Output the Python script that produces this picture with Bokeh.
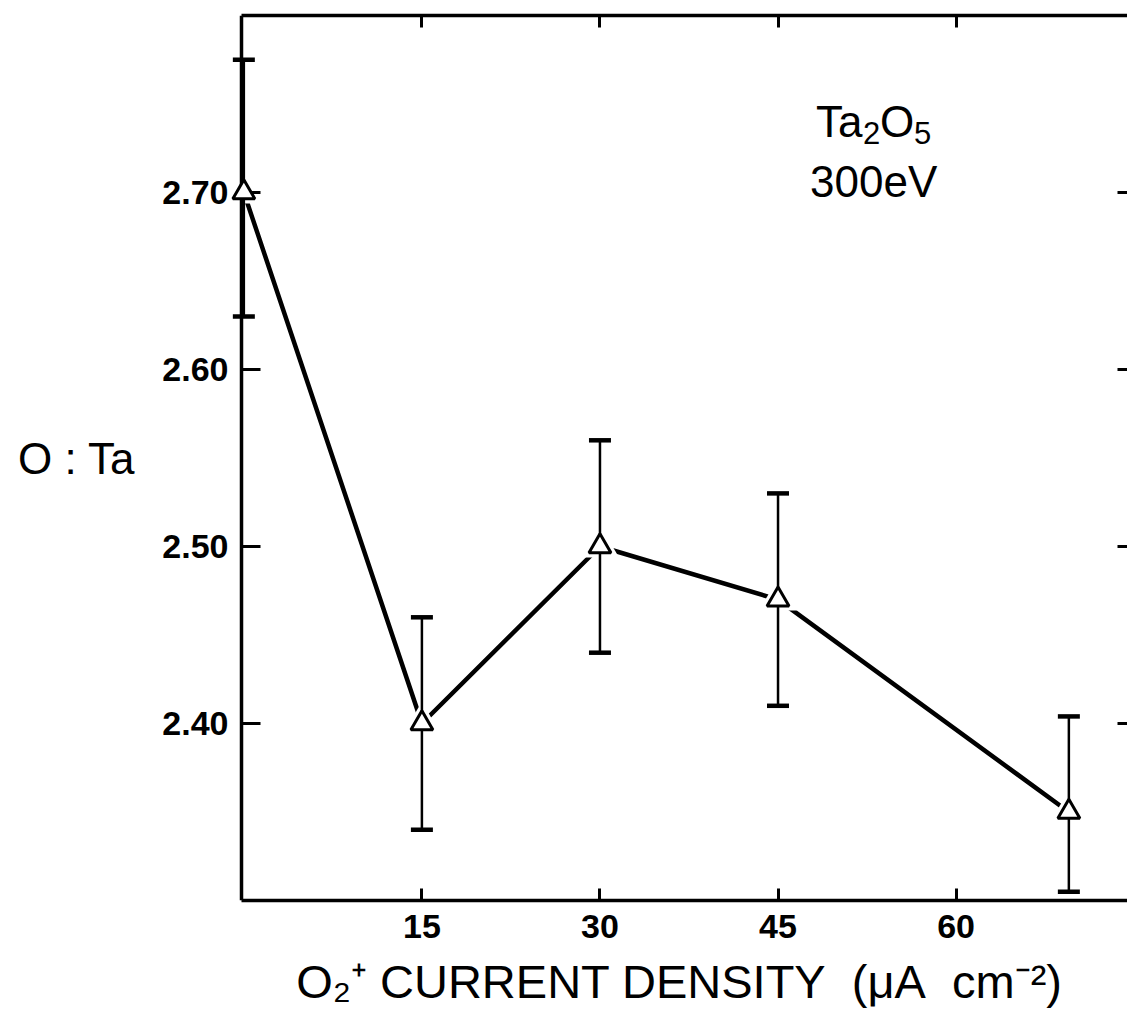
from bokeh.plotting import figure
from bokeh.models import Range1d, FixedTicker, PrintfTickFormatter, LinearAxis, Label
from bokeh.embed import file_html
from bokeh.resources import INLINE

# O:Ta ratio of Ta2O5 after 300 eV O2+ bombardment vs. ion current density
current_density = [0, 15, 30, 45, 69.5]
o_ta_ratio = [2.70, 2.40, 2.50, 2.47, 2.35]
ratio_low = [2.63, 2.34, 2.44, 2.41, 2.305]
ratio_high = [2.775, 2.46, 2.56, 2.53, 2.404]
x_ticks = [15, 30, 45, 60]
y_ticks = [2.40, 2.50, 2.60, 2.70]

FONT = "Liberation Sans"
X_AXIS_AT = -0.2          # where the left axis line sits
X_START, X_END = -1.04, 74.44
NB = "\u00A0"

p = figure(width=1127, height=1021, output_backend="svg", toolbar_location=None,
           x_range=Range1d(X_START, X_END), y_range=Range1d(2.30, 2.80),
           min_border_left=231, min_border_right=0, min_border_top=15,
           min_border_bottom=121, x_axis_location=None, y_axis_location=None,
           background_fill_color="white", border_fill_color="white")
p.outline_line_color = None
p.grid.visible = False


def style_axis(ax, tick_in, show_labels, line=True, tick_out=0):
    ax.major_tick_in = tick_in
    ax.major_tick_out = tick_out
    ax.minor_tick_line_color = None
    ax.major_tick_line_width = 3
    ax.major_tick_line_color = "black" if (tick_in or tick_out) else None
    ax.axis_line_width = 3.5
    ax.axis_line_color = "black" if line else None
    if show_labels:
        ax.major_label_text_font = FONT
        ax.major_label_text_font_style = "bold"
        ax.major_label_text_font_size = "34px"
        ax.major_label_text_color = "black"
    else:
        ax.major_label_text_font_size = "1px"
        ax.major_label_text_color = None
        ax.major_label_standoff = 0


# left axis line and its ticks, pinned at x = X_AXIS_AT; the pinned rule
# draws its ticks on the outer side, so a negative length turns them inward
left_rule = LinearAxis(ticker=FixedTicker(ticks=y_ticks), fixed_location=X_AXIS_AT)
style_axis(left_rule, 0, False, tick_out=-19)
p.add_layout(left_rule, "left")

# tick values and the quantity name, set just outside the rule
left = LinearAxis(ticker=FixedTicker(ticks=y_ticks),
                  formatter=PrintfTickFormatter(format="%.2f"),
                  axis_label="O : Ta")
style_axis(left, 0, True, line=False)
left.major_label_standoff = 3
left.axis_label_orientation = "horizontal"
left.axis_label_standoff = 24
left.axis_label_text_font = FONT
left.axis_label_text_font_style = "normal"
left.axis_label_text_font_size = "44px"
left.axis_label_text_color = "black"
p.add_layout(left, "left")

bottom = LinearAxis(ticker=FixedTicker(ticks=x_ticks), bounds=(X_AXIS_AT, X_END),
                    axis_label="O\u2082\u207A CURRENT DENSITY" + NB * 2 + "(\u03BCA"
                               + NB * 2 + "cm\u207B\u00B2)")
style_axis(bottom, 12, True)
bottom.major_label_standoff = 14
bottom.axis_label_standoff = 14
bottom.axis_label_text_font = FONT
bottom.axis_label_text_font_style = "normal"
bottom.axis_label_text_font_size = "47px"
bottom.axis_label_text_color = "black"
p.add_layout(bottom, "below")

top = LinearAxis(ticker=FixedTicker(ticks=x_ticks), bounds=(X_AXIS_AT, X_END))
style_axis(top, 12, False)
p.add_layout(top, "above")

right = LinearAxis(ticker=FixedTicker(ticks=y_ticks))
style_axis(right, 10, False, line=False)
p.add_layout(right, "right")

# connecting line, with a white halo at each marker so the line stops short
p.line(current_density, o_ta_ratio, line_width=4.5, line_color="black")
p.scatter(current_density, o_ta_ratio, marker="triangle", size=38,
          fill_color="white", line_color=None)

# error bars with flat caps
p.segment(x0=current_density, y0=ratio_low, x1=current_density, y1=ratio_high,
          line_width=2.5, line_color="black")
p.scatter(current_density, ratio_high, marker="dash", size=22,
          line_width=4.5, line_color="black")
p.scatter(current_density, ratio_low, marker="dash", size=22,
          line_width=4.5, line_color="black")

# open triangle markers, drawn above the axis line
markers = p.scatter(current_density, o_ta_ratio, marker="triangle", size=22,
                    fill_color="white", line_color="black", line_width=3)
markers.level = "overlay"

# sample annotation: Ta2O5 with real subscripts, then the beam energy
X_NOTE = 48.2
for txt, dx, yv, size in (("Ta", 0, 2.740, "44px"), ("2", 47, 2.7335, "31px"),
                          ("O", 64, 2.740, "44px"), ("5", 98, 2.7335, "31px")):
    p.add_layout(Label(x=X_NOTE, y=yv, x_offset=dx, text=txt, text_align="left",
                       text_baseline="alphabetic", text_font=FONT,
                       text_font_size=size, text_color="black"))
p.add_layout(Label(x=X_NOTE, y=2.706, x_offset=-6, text="300eV", text_align="left",
                   text_baseline="alphabetic", text_font=FONT,
                   text_font_size="44px", text_color="black"))

open("out.html", "w").write(file_html(p, INLINE))
